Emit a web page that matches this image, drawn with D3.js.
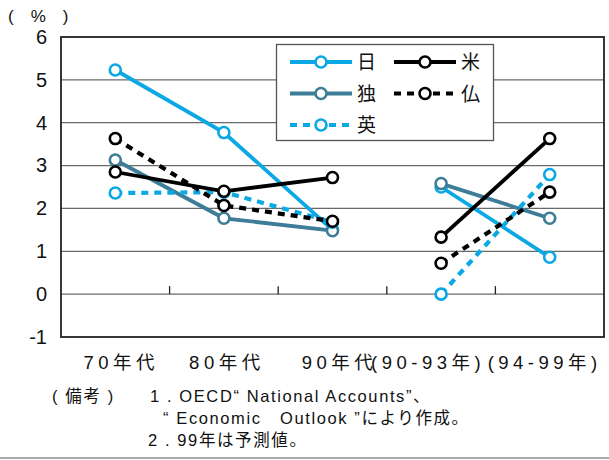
<!DOCTYPE html>
<html>
<head>
<meta charset="utf-8">
<script src="https://cdn.jsdelivr.net/npm/d3@7"></script>
<style>
  html, body { margin: 0; padding: 0; background: #fff; }
  svg { display: block; }
  text { font-family: "Liberation Sans", Arial, "Noto Sans CJK JP", sans-serif; fill: #111; }
  .cjk { font-family: "Liberation Sans", "Noto Sans CJK JP", sans-serif; white-space: pre; }
</style>
</head>
<body>
<svg id="chart" width="609" height="460"></svg>
<script>
// Periods on the horizontal axis
const categories = ["70年代", "80年代", "90年代", "(90-93年)", "(94-99年)"];
// Growth rates (%) per country, one value per period
const japan   = [5.23, 3.77, 1.50, 2.50, 0.86];
const germany = [3.13, 1.77, 1.48, 2.58, 1.77];
const uk      = [2.36, 2.38, 1.68, 0.00, 2.79];
const usa     = [2.85, 2.40, 2.72, 1.33, 3.63];
const france  = [3.63, 2.07, 1.70, 0.72, 2.38];
const yTicks  = [-1, 0, 1, 2, 3, 4, 5, 6];
const noteLines = [
  "( 備考 )",
  "1 . OECD“ National Accounts”、",
  "“ Economic\u00a0\u00a0\u00a0Outlook ”により作成。",
  "2 . 99年は予測値。"
];

const BLUE = "#0aa8e4", STEEL = "#3e7d98";
const series = [
  { name: "日", values: japan,   color: BLUE,  dash: null },
  { name: "独", values: germany, color: STEEL, dash: null },
  { name: "英", values: uk,      color: BLUE,  dash: "7,6" },
  { name: "米", values: usa,     color: "#000", dash: null },
  { name: "仏", values: france,  color: "#000", dash: "7,6" }
];

const svg = d3.select("#chart");
const plot = { left: 61, right: 604, top: 37, bottom: 337 };

const x = d3.scaleBand().domain(categories).range([plot.left, plot.right]);
const y = d3.scaleLinear().domain([-1, 6]).range([plot.bottom, plot.top]);
const cx = c => x(c) + x.bandwidth() / 2;

// Horizontal gridlines
svg.append("g").selectAll("line")
  .data(yTicks.filter(v => v > -1 && v < 6))
  .join("line")
  .attr("x1", plot.left).attr("x2", plot.right)
  .attr("y1", d => y(d)).attr("y2", d => y(d))
  .attr("stroke", "#6a6a6a")
  .attr("stroke-width", 1.3);

// Category separators sitting on the zero line
svg.append("g").selectAll("line")
  .data(categories.slice(1))
  .join("line")
  .attr("x1", d => x(d)).attr("x2", d => x(d))
  .attr("y1", y(0) - 8).attr("y2", y(0))
  .attr("stroke", "#222").attr("stroke-width", 1.3);

// Plot frame
svg.append("rect")
  .attr("x", plot.left).attr("y", plot.top)
  .attr("width", plot.right - plot.left).attr("height", plot.bottom - plot.top)
  .attr("fill", "none").attr("stroke", "#222").attr("stroke-width", 1.8);

// Y axis labels (plain hyphen for negatives)
const yAxis = d3.axisLeft(y).tickValues(yTicks).tickSize(0).tickPadding(14)
  .tickFormat(d => String(d));
svg.append("g").attr("transform", `translate(${plot.left},0)`).call(yAxis)
  .call(g => g.select(".domain").remove())
  .call(g => g.selectAll("text").attr("font-size", 20).attr("fill", "#111")
    .attr("font-family", "Liberation Sans, Arial, sans-serif"));

// Unit label
svg.append("text").attr("x", 8).attr("y", 22).attr("font-size", 17)
  .text("(　%　)");

// Category labels below the frame
const labelShift = [6, 3, 7, -13, -5];
svg.append("g").selectAll("text")
  .data(categories)
  .join("text")
  .attr("class", "cjk")
  .attr("x", (d, i) => cx(d) + labelShift[i])
  .attr("y", 369)
  .attr("text-anchor", "middle")
  .attr("font-size", 18.5)
  .attr("letter-spacing", 4.5)
  .text(d => d);

// Series lines and markers
const segments = [[0, 1, 2], [3, 4]];

series.forEach(s => {
  const g = svg.append("g");
  segments.forEach(idx => {
    const pts = idx.map(i => ({ i, v: s.values[i] }));
    g.append("path")
      .attr("d", d3.line().x(p => cx(categories[p.i])).y(p => y(p.v))(pts))
      .attr("fill", "none")
      .attr("stroke", s.color)
      .attr("stroke-width", s.dash ? 4.2 : 3.8)
      .attr("stroke-dasharray", s.dash);
  });
  g.selectAll("circle").data(s.values).join("circle")
    .attr("cx", (d, i) => cx(categories[i]))
    .attr("cy", d => y(d))
    .attr("r", 5.5)
    .attr("fill", "#fff")
    .attr("stroke", s.color)
    .attr("stroke-width", 2.6);
});

// Legend
const legend = svg.append("g");
legend.append("rect").attr("x", 276.5).attr("y", 44.5).attr("width", 217).attr("height", 96)
  .attr("fill", "#fff").attr("stroke", "#555").attr("stroke-width", 1.3);
const legendPos = [
  { col: 0, row: 0 }, { col: 0, row: 1 }, { col: 0, row: 2 },
  { col: 1, row: 0 }, { col: 1, row: 1 }
];
series.forEach((s, k) => {
  const p = legendPos[k];
  const x0 = 290 + p.col * 104, ly = 62 + p.row * 31.5;
  const item = legend.append("g");
  item.append("line").attr("x1", x0).attr("x2", x0 + 62).attr("y1", ly).attr("y2", ly)
    .attr("stroke", s.color).attr("stroke-width", s.dash ? 4.2 : 3.8)
    .attr("stroke-dasharray", s.dash);
  item.append("circle").attr("cx", x0 + 31).attr("cy", ly).attr("r", 5.5)
    .attr("fill", "#fff").attr("stroke", s.color).attr("stroke-width", 2.6);
  item.append("text").attr("class", "cjk").attr("x", x0 + 67).attr("y", ly + 7)
    .attr("font-size", 19).text(s.name);
});

// Notes under the chart
const notes = svg.append("g").attr("class", "cjk").attr("font-size", 16.5).attr("letter-spacing", 1.6);
notes.append("text").attr("x", 52).attr("y", 402).text(noteLines[0]);
notes.append("text").attr("x", 150).attr("y", 402).text(noteLines[1]);
notes.append("text").attr("x", 163).attr("y", 424).text(noteLines[2]);
notes.append("text").attr("x", 148).attr("y", 446).text(noteLines[3]);

// Bottom rule
svg.append("line").attr("x1", 0).attr("x2", 609).attr("y1", 458).attr("y2", 458)
  .attr("stroke", "#aaa").attr("stroke-width", 2);
</script>
</body>
</html>
